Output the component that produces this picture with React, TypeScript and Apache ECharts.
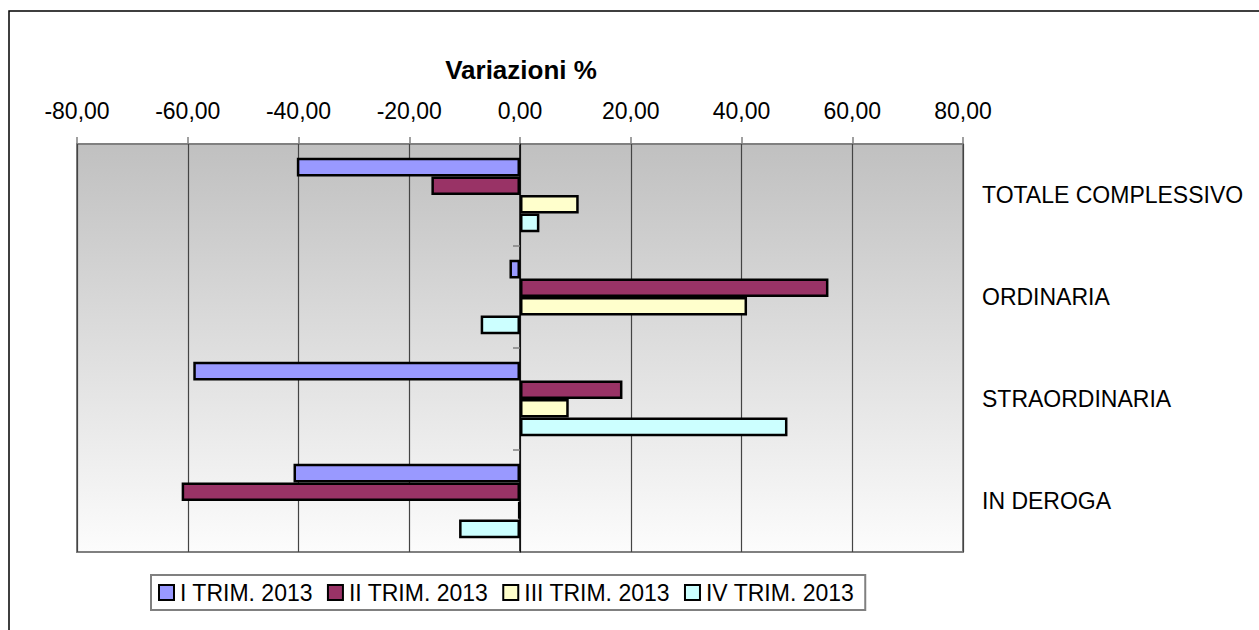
import React, { useEffect, useRef } from "react";
import * as echarts from "echarts";

const categories = ["TOTALE COMPLESSIVO", "ORDINARIA", "STRAORDINARIA", "IN DEROGA"];
const seriesNames = ["I TRIM. 2013", "II TRIM. 2013", "III TRIM. 2013", "IV TRIM. 2013"];
const trim1 = [-40.3, -1.9, -59.0, -40.9];
const trim2 = [-16.0, 55.7, 18.5, -61.1];
const trim3 = [10.6, 41.0, 8.8, -0.3];
const trim4 = [3.5, -7.1, 48.3, -11.0];
const colors = ["#9999FF", "#993366", "#FFFFCC", "#CCFFFF"];
const xTicks = { min: -80, max: 80, interval: 20 };

const FONT = "'Liberation Sans', Arial, sans-serif";

export default function App() {
  const ref = useRef<HTMLDivElement>(null);
  useEffect(() => {
    if (!ref.current) return;
    const chart = echarts.init(ref.current, null, { renderer: "svg" });
    const data = [trim1, trim2, trim3, trim4];
    chart.setOption({
      animation: false,
      backgroundColor: "#ffffff",
      textStyle: { fontFamily: FONT },
      title: {
        text: "Variazioni %",
        left: 516,
        top: 52,
        textAlign: "center",
        textStyle: { fontFamily: FONT, fontSize: 26, fontWeight: "bold", color: "#000" },
      },
      graphic: [
        {
          type: "rect",
          shape: { x: 9, y: 11, width: 1400, height: 800 },
          style: { fill: "none", stroke: "#000", lineWidth: 1.5 },
          silent: true,
          z: 100,
        },
      ],
      legend: {
        data: seriesNames,
        left: 151,
        top: 575,
        padding: [6, 11, 6, 7],
        itemWidth: 15,
        itemHeight: 15,
        itemGap: 14,
        icon: "rect",
        borderColor: "#808080",
        borderWidth: 2,
        backgroundColor: "#fff",
        textStyle: { fontFamily: FONT, fontSize: 23, color: "#000", padding: [0, 0, 0, 1] },
      },
      grid: {
        left: 77,
        top: 144,
        right: 296,
        bottom: 78,
        show: true,
        borderColor: "#808080",
        borderWidth: 2,
        backgroundColor: new echarts.graphic.LinearGradient(0, 0, 0, 1, [
          { offset: 0, color: "#c0c0c0" },
          { offset: 1, color: "#fcfcfc" },
        ]),
      },
      xAxis: {
        type: "value",
        position: "top",
        min: xTicks.min,
        max: xTicks.max,
        interval: xTicks.interval,
        axisLine: { show: false },
        axisTick: { show: true, length: 7, lineStyle: { color: "#808080", width: 1.5 } },
        axisLabel: {
          fontFamily: FONT,
          fontSize: 23,
          color: "#000",
          margin: 22,
          formatter: (v: number) => v.toFixed(2).replace(".", ","),
        },
        splitLine: { show: true, lineStyle: { color: "#444", width: 1.2 } },
      },
      yAxis: [
        {
          type: "category",
          data: categories,
          inverse: true,
          axisLine: { show: true, onZero: true, lineStyle: { color: "#000", width: 1.5 } },
          axisTick: { show: true, length: 7, lineStyle: { color: "#808080", width: 1.5 } },
          axisLabel: { show: false },
          z: 10,
        },
        {
          type: "category",
          data: categories,
          inverse: true,
          position: "right",
          axisLine: { show: false },
          axisTick: { show: false },
          axisLabel: { fontFamily: FONT, fontSize: 23, color: "#000", margin: 19 },
        },
      ],
      series: seriesNames.map((name, i) => ({
        name,
        type: "bar",
        yAxisIndex: 0,
        data: data[i],
        barGap: "0%",
        barCategoryGap: "27%",
        itemStyle: { color: colors[i], borderColor: "#000", borderWidth: 2.5 },
      })),
    });
    return () => chart.dispose();
  }, []);
  return (
    <div
      ref={ref}
      style={{ position: "fixed", left: 0, top: 0, width: 1259, height: 630 }}
    />
  );
}
